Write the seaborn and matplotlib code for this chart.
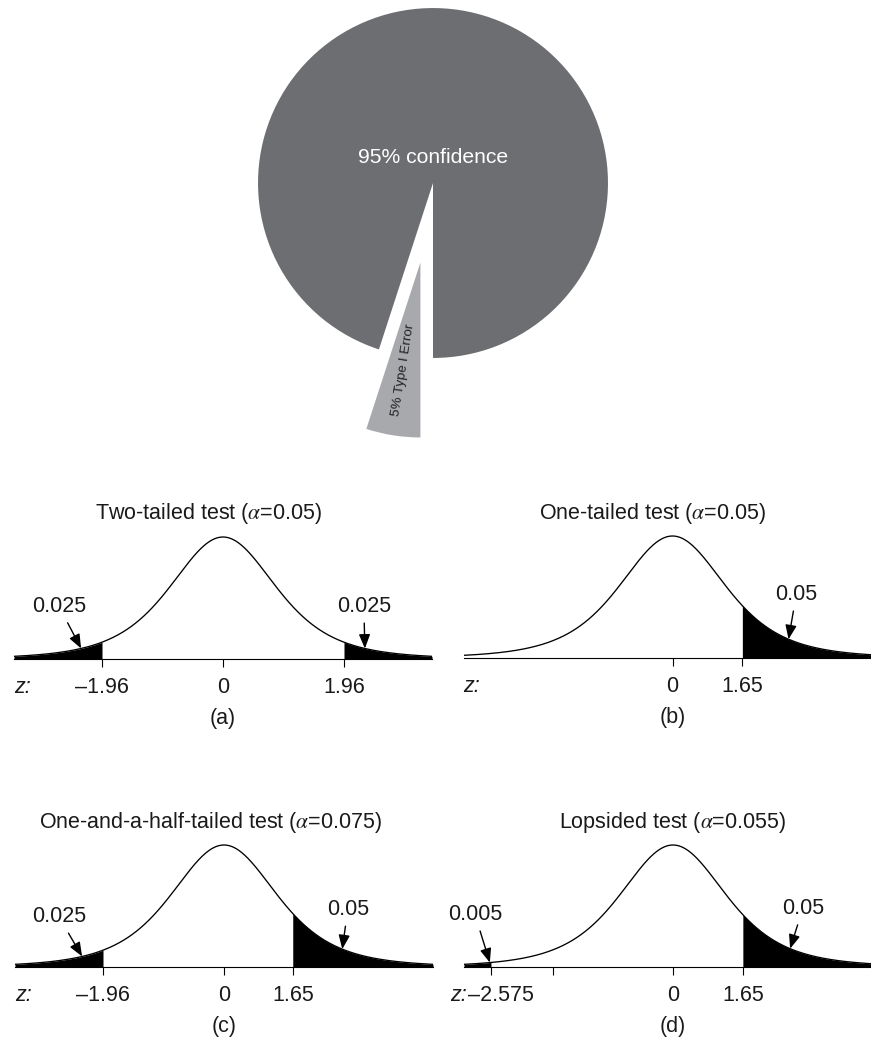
import numpy as np
import matplotlib
matplotlib.use('Agg')
import matplotlib.pyplot as plt
import matplotlib.transforms as mtransforms
import seaborn as sns

# --- pie: confidence vs type I error ---
pie_labels = ['95% confidence', '5% Type I Error']
pie_values = [95, 5]
pie_colors = ['#6d6e71', '#a7a9ac']

# --- bell curve panels (x in drawing units, ticks where the picture puts them) ---
titles = ['Two-tailed test', 'One-tailed test', 'One-and-a-half-tailed test', 'Lopsided test']
alphas = ['0.05', '0.05', '0.075', '0.055']
tags = ['(a)', '(b)', '(c)', '(d)']
tick_pos = [[-2.2, 0, 2.2], [0, 1.27], [-2.2, 0, 1.25], [-3.31, -2.18, 0, 1.27]]
tick_lab = [['\u20131.96', '0', '1.96'], ['0', '1.65'],
            ['\u20131.96', '0', '1.65'], ['\u20132.575', '', '0', '1.65']]
tails = [[(-3.8, -2.2), (2.2, 3.8)], [(1.27, 3.8)],
         [(-3.8, -2.2), (1.25, 3.8)], [(-3.8, -3.31), (1.27, 3.8)]]
tail_txt = [['0.025', '0.025'], ['0.05'], ['0.025', '0.05'], ['0.005', '0.05']]
tail_txt_xy = [[(-2.98, 0.43), (2.56, 0.43)], [(2.25, 0.52)],
               [(-3.0, 0.41), (2.25, 0.47)], [(-3.6, 0.43), (2.36, 0.48)]]
tail_tip_x = [[-2.58, 2.58], [2.11], [-2.58, 2.15], [-3.33, 2.13]]


def bell(x, nu=4):
    # bell shape with peak 1
    return (1 + x ** 2 / nu) ** (-(nu + 1) / 2)


sns.set_theme(style='ticks')
plt.rcParams['font.family'] = ['Liberation Sans', 'DejaVu Sans']
plt.rcParams['mathtext.fontset'] = 'stix'

W, H = 871, 1038
fig = plt.figure(figsize=(W / 100, H / 100), dpi=100)

# pie
pax = fig.add_axes([233 / W, 1 - 450 / H, 400 / W, 450 / H])
wedges, _ = pax.pie(pie_values, colors=pie_colors, startangle=270, counterclock=True,
                    explode=[0, 0.46], wedgeprops=dict(linewidth=0))
pax.set_aspect('auto')
pax.set_xlim(-1.143, 1.143)
pax.set_ylim(-1.526, 1.046)
pax.text(0, 0.143, pie_labels[0], color='white', fontsize=15.2, ha='center', va='center')
w = wedges[1]
mid = np.deg2rad((w.theta1 + w.theta2) / 2)
cx, cy = w.center
pax.text(cx + 0.62 * np.cos(mid), cy + 0.62 * np.sin(mid), pie_labels[1],
         rotation=(np.rad2deg(mid) - 180) % 360, rotation_mode='anchor',
         fontsize=9.6, ha='center', va='center', color='#222222')

# bell panels
panel_cx = [223, 672.5, 224, 673]
panel_base = [659, 658, 967, 967]
title_x = [-0.27, -0.36, -0.25, 0.0]
z_off = [0, 0, 0, -10]
XL = (-3.8, 3.8)
sx, sy, ytop = 55, 122, 1.08
fs = 15.5
tlen, tpad = 5.8, 7
curve_x = np.linspace(XL[0], XL[1], 800)

for i in range(4):
    left = panel_cx[i] + XL[0] * sx
    ax = fig.add_axes([left / W, 1 - panel_base[i] / H, (XL[1] - XL[0]) * sx / W, ytop * sy / H])
    sns.lineplot(x=curve_x, y=bell(curve_x), ax=ax, color='black', lw=0.95)
    for lo, hi in tails[i]:
        tx = np.linspace(lo, hi, 200)
        ax.fill_between(tx, 0, bell(tx), color='black', lw=0)
    ax.set_xlim(XL)
    ax.set_ylim(0, ytop)
    ax.set_yticks([])
    for s in ['left', 'right', 'top']:
        ax.spines[s].set_visible(False)
    ax.spines['bottom'].set_color('black')
    ax.spines['bottom'].set_linewidth(0.8)
    ax.set_xticks(tick_pos[i])
    ax.set_xticklabels(tick_lab[i])
    ax.tick_params(axis='x', bottom=True, direction='out', length=tlen, width=0.8,
                   color='black', pad=tpad, labelsize=fs, labelcolor='#1a1a1a')
    if i == 3:
        lab = ax.get_xticklabels()[0]
        lab.set_transform(lab.get_transform() +
                          mtransforms.ScaledTranslation(10 / 100, 0, fig.dpi_scale_trans))
    ax.annotate('z:', xy=(0, 0), xycoords='axes fraction', xytext=(z_off[i], -(tlen + tpad)),
                textcoords='offset points', ha='left', va='top', fontsize=fs,
                style='italic', color='#1a1a1a')
    ax.set_xlabel(tags[i], fontsize=fs, labelpad=7.5, color='#1a1a1a')
    ax.text(title_x[i], 145 / (ytop * sy), titles[i] + r' ($\alpha$=' + alphas[i] + ')',
            transform=ax.get_xaxis_transform(), ha='center', va='center',
            fontsize=fs, color='#1a1a1a')
    for txt, (x0, y0), tip in zip(tail_txt[i], tail_txt_xy[i], tail_tip_x[i]):
        ax.annotate(txt, xy=(tip, bell(tip)), xytext=(x0, y0), ha='center', va='center',
                    fontsize=fs, color='#1a1a1a', annotation_clip=False,
                    arrowprops=dict(arrowstyle='-|>,head_length=0.55,head_width=0.22',
                                    color='black', lw=1.0, shrinkA=2, shrinkB=0))

fig.savefig('out.png', dpi=100, facecolor='white')
